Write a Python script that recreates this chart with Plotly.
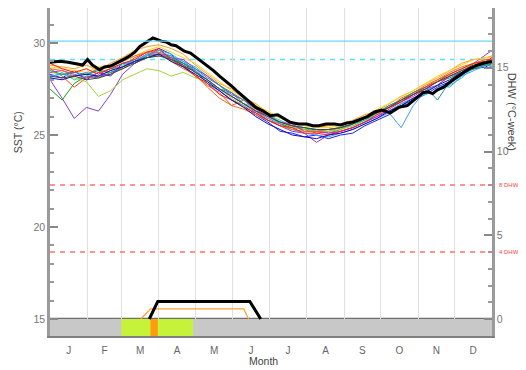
import plotly.graph_objects as go

# ---------------- data ----------------
month_labels = ["J", "F", "M", "A", "M", "J", "J", "A", "S", "O", "N", "D"]
month_starts = [0, 31, 59, 90, 120, 151, 181, 212, 243, 273, 304, 334, 365]

days = [0, 10, 20, 30, 40, 50, 60, 70, 80, 90, 100, 110, 120, 130, 140, 150, 160, 170, 180,
        190, 200, 210, 220, 230, 240, 250, 260, 270, 280, 290, 300, 310, 320, 330, 340, 350, 360, 365]

yr_blue = [28.3, 28.1, 28.5, 28.0, 28.4, 28.2, 28.9, 28.9, 29.3, 29.7, 29.4, 28.7, 28.5, 27.8, 27.4, 26.9, 26.6, 26.1, 25.7,
           25.2, 25.1, 24.9, 25.0, 24.8, 25.0, 25.1, 25.5, 25.8, 26.1, 26.6, 26.9, 27.2, 27.6, 27.9, 28.3, 28.6, 28.7, 28.9]
yr_orange = [28.8, 28.7, 28.6, 28.8, 28.5, 28.9, 29.2, 29.6, 29.8, 29.9, 29.7, 29.4, 28.8, 28.3, 27.8, 27.5, 27.0, 26.7, 26.2,
             26.0, 25.7, 25.6, 25.4, 25.5, 25.6, 25.8, 26.1, 26.3, 26.7, 27.1, 27.4, 27.8, 28.1, 28.5, 28.9, 29.1, 29.2, 29.3]
yr_redorange = [28.6, 28.2, 27.6, 28.1, 28.4, 28.6, 28.7, 29.2, 29.5, 29.6, 29.2, 28.8, 28.2, 27.7, 27.3, 26.6, 26.9, 26.3, 25.8,
                25.6, 25.5, 25.3, 25.1, 25.2, 25.4, 25.6, 25.9, 26.2, 26.6, 26.9, 27.3, 27.6, 28.0, 28.3, 28.6, 28.9, 29.1, 29.1]
yr_purple = [28.0, 27.0, 25.9, 26.5, 26.3, 27.2, 28.3, 28.9, 29.2, 29.4, 29.3, 28.9, 28.5, 28.0, 27.5, 27.1, 26.7, 26.2, 25.8,
             25.5, 25.2, 25.1, 24.6, 25.0, 25.2, 25.4, 25.7, 26.0, 26.3, 26.7, 27.0, 27.4, 27.7, 28.2, 28.4, 28.9, 29.4, 29.6]
yr_green = [27.5, 26.9, 27.8, 28.2, 28.1, 28.4, 28.6, 29.0, 29.3, 29.4, 29.1, 28.9, 28.4, 28.0, 27.5, 27.3, 26.7, 26.3, 26.1,
            25.6, 25.4, 25.3, 25.3, 25.1, 25.3, 25.6, 25.8, 26.2, 26.5, 26.8, 27.2, 27.5, 27.9, 28.1, 28.4, 28.6, 28.8, 28.8]
yr_cyan = [28.1, 28.4, 28.0, 28.2, 28.6, 28.7, 28.8, 29.1, 29.3, 29.6, 29.4, 29.0, 28.7, 28.2, 27.7, 27.1, 26.7, 26.5, 26.1,
           25.8, 25.5, 25.4, 25.2, 25.3, 25.4, 25.5, 25.8, 26.1, 26.3, 26.7, 27.0, 27.2, 27.4, 27.7, 28.1, 28.7, 28.9, 29.1]
yr_yellow = [28.7, 28.6, 28.5, 28.4, 28.7, 28.8, 29.0, 29.3, 29.6, 29.8, 29.5, 29.2, 28.9, 28.4, 27.9, 27.4, 27.0, 26.6, 26.3,
             25.9, 25.7, 25.5, 25.4, 25.4, 25.5, 25.7, 26.0, 26.4, 26.7, 27.1, 27.4, 27.8, 28.2, 28.5, 28.8, 29.1, 29.2, 29.2]
yr_lightgreen = [28.4, 28.3, 28.1, 27.9, 27.1, 27.4, 28.0, 28.3, 28.6, 28.5, 28.2, 28.4, 28.1, 27.9, 27.5, 27.0, 26.6, 26.3, 25.9,
                 25.7, 25.4, 25.3, 25.2, 25.2, 25.3, 25.5, 25.7, 26.0, 26.5, 26.9, 27.2, 27.5, 27.9, 28.3, 28.6, 28.8, 29.0, 29.0]
yr_magenta = [28.4, 28.5, 28.3, 28.1, 28.2, 28.3, 28.7, 29.0, 29.4, 29.4, 29.2, 29.1, 28.6, 28.2, 27.7, 27.2, 26.9, 26.4, 26.0,
              25.7, 25.6, 25.2, 25.2, 25.1, 25.2, 25.4, 25.7, 26.0, 26.4, 26.8, 27.1, 27.5, 27.7, 28.2, 28.5, 28.7, 29.0, 29.1]
yr_skyblue = [28.2, 28.3, 28.2, 28.4, 28.2, 28.5, 28.9, 29.0, 29.4, 29.5, 29.3, 29.0, 28.5, 28.0, 27.5, 27.1, 26.7, 26.3, 25.9,
              25.6, 25.3, 25.1, 25.0, 24.9, 25.1, 25.3, 25.6, 25.9, 26.2, 25.4, 26.6, 27.4, 27.7, 27.6, 28.2, 28.5, 28.8, 28.7]
yr_darkorange = [28.6, 28.5, 28.2, 28.3, 28.6, 28.7, 29.0, 29.3, 29.5, 29.5, 29.0, 28.6, 28.3, 27.6, 27.0, 26.6, 26.4, 26.1, 25.8,
                 25.5, 25.3, 25.2, 25.2, 25.3, 25.4, 25.6, 25.9, 26.2, 26.5, 27.0, 27.3, 27.7, 28.0, 28.4, 28.7, 28.9, 29.0, 29.1]
yr_teal = [28.5, 28.3, 28.4, 28.3, 28.5, 28.4, 28.7, 29.0, 29.2, 29.3, 29.2, 28.9, 28.6, 28.1, 27.7, 27.3, 26.9, 26.5, 26.1,
           25.7, 25.5, 25.4, 25.3, 25.3, 25.4, 25.6, 25.9, 26.2, 26.6, 26.9, 27.3, 27.6, 26.9, 27.9, 28.5, 28.7, 28.8, 28.9]
yr_red = [28.9, 28.6, 28.4, 28.6, 28.3, 28.6, 28.9, 29.1, 29.5, 29.7, 29.1, 28.7, 28.2, 27.8, 27.2, 26.9, 26.5, 26.2, 25.8,
          25.5, 25.4, 25.1, 25.1, 25.0, 25.2, 25.4, 25.7, 26.1, 26.5, 26.8, 27.2, 27.6, 27.9, 28.3, 28.6, 28.9, 29.0, 29.2]
yr_navy = [28.1, 28.0, 28.2, 28.3, 28.2, 28.5, 28.7, 29.0, 29.2, 29.4, 29.0, 28.7, 28.3, 27.9, 27.4, 26.9, 26.5, 26.0, 25.6,
           25.3, 25.0, 24.9, 24.8, 25.0, 25.1, 25.3, 25.6, 25.9, 26.3, 26.6, 27.0, 27.3, 27.7, 28.0, 28.4, 28.7, 28.9, 29.0]
yr_darkgrey = [28.2, 28.1, 28.2, 28.0, 28.1, 28.3, 28.6, 28.9, 29.2, 29.3, 29.1, 28.8, 28.4, 28.0, 27.5, 27.1, 26.7, 26.3, 26.0,
               25.7, 25.5, 25.4, 25.3, 25.3, 25.4, 25.6, 25.9, 26.2, 26.5, 26.9, 27.2, 27.5, 27.9, 28.2, 28.5, 28.8, 29.0, 29.0]

past_years = [yr_blue, yr_orange, yr_redorange, yr_purple, yr_green, yr_cyan, yr_yellow, yr_lightgreen,
              yr_magenta, yr_skyblue, yr_darkorange, yr_teal, yr_red, yr_navy, yr_darkgrey]
past_colors = ["#1f1fff", "#ff9a1a", "#ff4a10", "#8a3bd0", "#12a012", "#1ccfd0", "#ffd21a", "#a6d13a",
               "#d21cd2", "#3a9cff", "#e8701a", "#159a9a", "#ff1a1a", "#1010b0", "#444444"]

# current year SST
cur_days = [0, 8, 15, 22, 27, 31, 35, 41, 45, 50, 55, 58, 62, 66, 70, 74, 78, 82, 85, 88, 92, 96, 100, 104,
            107, 111, 116, 121, 126, 131, 135, 140, 146, 151, 155, 160, 165, 170, 176, 182, 188, 193, 198,
            205, 212, 217, 222, 228, 235, 240, 245, 250, 256, 262, 268, 274, 281, 288, 295, 301, 308, 312,
            316, 320, 325, 330, 336, 340, 344, 348, 353, 358, 363, 365]
cur_sst = [28.95, 29.0, 28.95, 28.85, 28.8, 29.1, 28.8, 28.55, 28.7, 28.75, 28.9, 29.0, 29.15, 29.3, 29.5, 29.8,
           30.0, 30.15, 30.27, 30.2, 30.1, 30.05, 29.9, 29.85, 29.7, 29.55, 29.45, 29.2, 28.97, 28.7, 28.5,
           28.2, 27.9, 27.6, 27.35, 27.07, 26.8, 26.5, 26.3, 26.05, 26.1, 25.9, 25.7, 25.6, 25.6, 25.5, 25.5,
           25.6, 25.6, 25.55, 25.65, 25.7, 25.85, 26.0, 26.25, 26.35, 26.2, 26.5, 26.6, 26.9, 27.3, 27.35,
           27.25, 27.45, 27.6, 27.85, 28.15, 28.3, 28.5, 28.65, 28.8, 28.9, 28.97, 29.0]

# degree heating weeks
dhw_cur_days = [82, 89, 165, 174]
dhw_cur = [0, 1.05, 1.05, 0]
dhw_prev_days = [75, 83, 160, 164]
dhw_prev = [0, 0.6, 0.6, 0]

mmm = 29.1
bleach_threshold = 30.1
dhw_levels = [4, 8]
dhw_level_labels = ["4 DHWs", "8 DHWs"]

# alert strip
strip_start = [0, 59, 83]
strip_end = [365, 118, 89]
strip_colors = ["#c8c8c8", "#c6f23a", "#ff9a10"]

SST_RANGE = [14.08, 31.9]
DHW_RANGE = [-1.015, 18.57]
strip_top = 15

# ---------------- figure ----------------
fig = go.Figure()

for vals, col in zip(past_years, past_colors):
    fig.add_trace(go.Scatter(x=days, y=vals, mode="lines", line=dict(color=col, width=1),
                             hoverinfo="skip", showlegend=False))

fig.add_trace(go.Scatter(x=cur_days, y=cur_sst, mode="lines", line=dict(color="black", width=3),
                         hoverinfo="skip", showlegend=False))

fig.add_trace(go.Scatter(x=dhw_prev_days, y=dhw_prev, mode="lines", yaxis="y2",
                         line=dict(color="#ffa030", width=1.2), hoverinfo="skip", showlegend=False))
fig.add_trace(go.Scatter(x=dhw_cur_days, y=dhw_cur, mode="lines", yaxis="y2",
                         line=dict(color="black", width=3), hoverinfo="skip", showlegend=False))

shapes = []
for s, e, c in zip(strip_start, strip_end, strip_colors):
    shapes.append(dict(type="rect", xref="x", yref="y", x0=s, x1=e, y0=SST_RANGE[0], y1=strip_top,
                       fillcolor=c, line=dict(width=0), layer="between"))
shapes.append(dict(type="line", xref="paper", yref="y", x0=0, x1=1, y0=strip_top, y1=strip_top,
                   line=dict(color="#6e6e6e", width=2.5), layer="between"))
shapes.append(dict(type="line", xref="paper", yref="y", x0=0, x1=1, y0=bleach_threshold, y1=bleach_threshold,
                   line=dict(color="#66dcf0", width=1.3)))
shapes.append(dict(type="line", xref="paper", yref="y", x0=0, x1=1, y0=mmm, y1=mmm,
                   line=dict(color="#66dcf0", width=1.5, dash="5px,5px"), layer="below"))
for lv in dhw_levels:
    shapes.append(dict(type="line", xref="paper", yref="y2", x0=0, x1=1, y0=lv, y1=lv,
                       line=dict(color="#ff7070", width=1.6, dash="5px,5px")))

annotations = []
for lv, lab in zip(dhw_levels, dhw_level_labels):
    annotations.append(dict(xref="paper", yref="y2", x=1, y=lv, text=lab, showarrow=False,
                            xanchor="left", yanchor="middle", xshift=5, font=dict(size=6, color="#ff4040")))
annotations.append(dict(xref="paper", yref="paper", x=-0.072, y=0.622, text="SST (\u00b0C)", showarrow=False,
                        xanchor="center", yanchor="middle",
                        textangle=-90, font=dict(size=10.5, color="#444")))
annotations.append(dict(xref="paper", yref="paper", x=1.046, y=0.683, text="DHW (\u00b0C-week)", showarrow=False,
                        xanchor="center", yanchor="middle",
                        textangle=90, font=dict(size=11, color="#444")))
annotations.append(dict(xref="paper", yref="paper", x=0.482, y=-0.075, text="Month", showarrow=False,
                        xanchor="center", yanchor="middle",
                        font=dict(size=10.5, color="#444")))

month_mids = [(month_starts[i] + month_starts[i + 1]) / 2 for i in range(12)]

fig.update_layout(
    width=518, height=362,
    margin=dict(l=42, r=34, t=0, b=34),
    plot_bgcolor="white", paper_bgcolor="white",
    font=dict(family="Liberation Sans, Arial, sans-serif", size=10, color="#666"),
    shapes=shapes, annotations=annotations,
    xaxis=dict(range=[0, 365], tickmode="array", tickvals=month_mids, ticktext=month_labels,
               ticks="", showgrid=False, zeroline=False, showline=True, linecolor="#808080", linewidth=2,
               tickfont=dict(size=10, color="#666"), ticklabelstandoff=4,
               minor=dict(tickmode="array", tickvals=month_starts, showgrid=True,
                          gridcolor="#e0e0e0", gridwidth=1, ticks="")),
    yaxis=dict(range=SST_RANGE, tickmode="array", tickvals=[15, 20, 25, 30], ticks="inside", ticklen=8,
               tickcolor="#888", tickwidth=1.5, showline=True, linecolor="#9a9a9a", linewidth=2.5,
               showgrid=False, zeroline=False, tickfont=dict(size=10.5, color="#777"),
               minor=dict(dtick=1, ticks="inside", ticklen=4, tickcolor="#999")),
    yaxis2=dict(range=DHW_RANGE, overlaying="y", side="right", tickmode="array", tickvals=[0, 5, 10, 15],
                ticks="inside", ticklen=8, tickcolor="#888", tickwidth=1.5, showline=True,
                linecolor="#9a9a9a", linewidth=2.5, showgrid=False, zeroline=False,
                tickfont=dict(size=10.5, color="#777"),
                minor=dict(dtick=1, ticks="inside", ticklen=4, tickcolor="#999")),
)

fig.write_html("out.html")
